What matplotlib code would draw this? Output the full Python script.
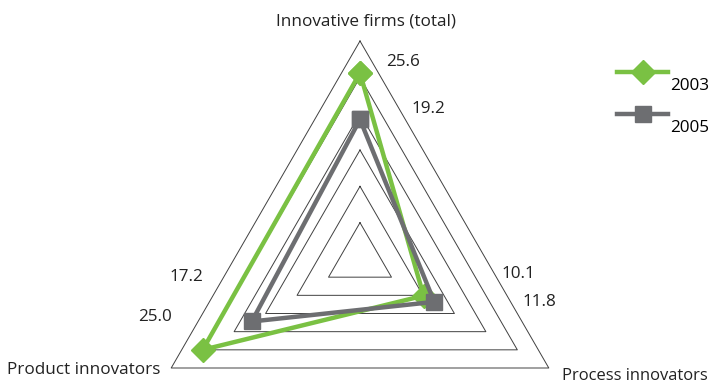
import numpy as np
import matplotlib
matplotlib.use("Agg")
import matplotlib.pyplot as plt
from matplotlib.lines import Line2D

plt.rcParams['font.family'] = ['Open Sans', 'DejaVu Sans']

categories = ["Innovative firms (total)", "Process innovators", "Product innovators"]
series_names = ["2003", "2005"]
values_2003 = [25.6, 10.1, 25.0]
values_2005 = [19.2, 11.8, 17.2]
grid_levels = [5, 10, 15, 20, 25, 30]
r_max = 30

green = "#7AC143"
gray = "#6D6E71"

W, H = 710, 381
fig = plt.figure(figsize=(W / 100, H / 100), dpi=100)

cx, cy, R = 360, 259, 218
ax = fig.add_axes([(cx - R) / W, (H - cy - R) / H, 2 * R / W, 2 * R / H], projection='polar')
ax.set_theta_offset(np.pi / 2)
ax.set_theta_direction(-1)
ax.set_ylim(0, r_max)
ax.grid(False)
ax.set_xticks([])
ax.set_yticks([])
ax.spines['polar'].set_visible(False)
ax.patch.set_visible(False)

n = len(categories)
theta = np.arange(n) * 2 * np.pi / n
theta_c = np.append(theta, theta[0])

for lv in grid_levels:
    ax.plot(theta_c, [lv] * (n + 1), color="#404040", lw=0.7, clip_on=False, zorder=1)

v03 = np.append(values_2003, values_2003[0])
v05 = np.append(values_2005, values_2005[0])
ax.plot(theta_c, v03, color=green, lw=3.2, marker='D', markersize=12,
        markerfacecolor=green, markeredgecolor=green, clip_on=False, zorder=3)
ax.plot(theta_c, v05, color=gray, lw=3.2, marker='s', markersize=11,
        markerfacecolor=gray, markeredgecolor=gray, clip_on=False, zorder=4)

fs = 12.3
def ftxt(x, y, s, size=fs, **kw):
    fig.text(x / W, 1 - y / H, s, fontsize=size, color="#222222", **kw)

# category labels
ftxt(366, 22, categories[0], ha='center', va='center')
ftxt(708, 376, categories[1], size=11.9, ha='right', va='center')
ftxt(160, 370, categories[2], ha='right', va='center')

# value labels
ftxt(403, 62, f"{values_2003[0]:.1f}", ha='center', va='center')
ftxt(428, 109, f"{values_2005[0]:.1f}", ha='center', va='center')
ftxt(518, 274, f"{values_2003[1]:.1f}", ha='center', va='center')
ftxt(539, 302, f"{values_2005[1]:.1f}", ha='center', va='center')
ftxt(186, 277, f"{values_2005[2]:.1f}", ha='center', va='center')
ftxt(155, 317, f"{values_2003[2]:.1f}", ha='center', va='center')

handles = [
    Line2D([], [], color=green, lw=3.2, marker='D', markersize=12, markeredgecolor=green),
    Line2D([], [], color=gray, lw=3.2, marker='s', markersize=11, markeredgecolor=gray),
]
leg = fig.legend(handles, series_names, loc='upper left', bbox_to_anchor=(617 / W, 1 - 66 / H),
                 frameon=False, fontsize=fs, handlelength=3.0, labelspacing=1.5,
                 handletextpad=0.1, borderpad=0, borderaxespad=0)
for t in leg.get_texts():
    t.set_va('top')

fig.savefig("out.png", dpi=100)
